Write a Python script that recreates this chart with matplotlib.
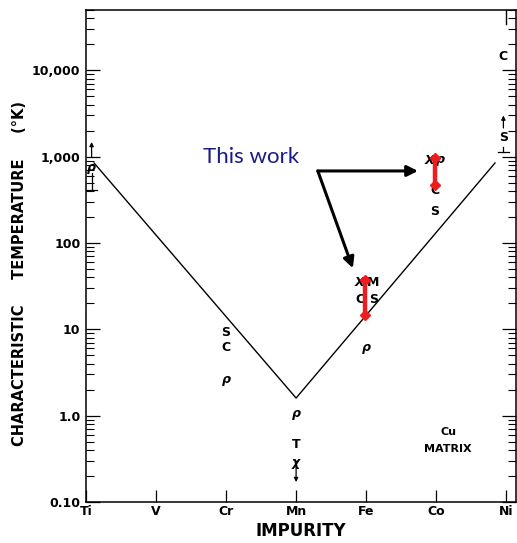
import matplotlib
matplotlib.use("Agg")
import matplotlib.pyplot as plt
from matplotlib.ticker import LogLocator, FixedLocator, NullFormatter

# ---- data ----
impurities = ["Ti", "V", "Cr", "Mn", "Fe", "Co", "Ni"]
ytick_vals = [0.1, 1, 10, 100, 1000, 10000]
ytick_labels = ["0.10", "1.0", "10", "100", "1,000", "10,000"]

# V-shaped guide line (impurity index, temperature K)
line_x = [0.115, 3.0, 5.84]
line_y = [845, 1.6, 845]

# letter symbols: (impurity index, temperature, label, italic)
symbols = [
    (0.08, 759, "ρ", True),
    (2.0, 9.3, "S", False),
    (2.0, 6.2, "C", False),
    (2.0, 2.6, "ρ", True),
    (3.0, 1.07, "ρ", True),
    (3.0, 0.46, "T", False),
    (3.0, 0.29, "χ", True),
    (3.91, 35, "X", True),
    (4.10, 35, "M", False),
    (3.91, 21.9, "C", False),
    (4.10, 21.9, "S", False),
    (4.01, 6.1, "ρ", True),
    (4.91, 910, "X", True),
    (5.06, 930, "ρ", True),
    (4.98, 411, "C", False),
    (4.98, 229, "S", False),
    (5.96, 14300, "C", False),
    (5.96, 1690, "S", False),
    (5.17, 0.65, "Cu", False),
    (5.17, 0.41, "MATRIX", False),
]

# "This work" ranges (red bars)
work_x = [3.98, 4.98]
work_low = [14.7, 470]
work_high = [37, 967]

# bound markers: (x, value of arrow base, value of arrow tip)
up_arrows = [(0.08, 1000, 1480), (5.96, 2150, 3000)]
down_arrows = [(3.0, 0.25, 0.17)]
# lower bound "⊥" markers: (x, top, bottom)
lower_bars = [(0.08, 645, 411), (5.96, 1300, 1130)]

fig = plt.figure(figsize=(5.17, 5.43), dpi=100)
ax = fig.add_axes([86/517, 1-502/543, (516-86)/517, 492/543])

ax.set_yscale("log")
ax.set_ylim(0.1, 50000)
ax.set_xlim(0, 6.14)

ax.plot(line_x, line_y, color="black", lw=1.0)

for x, y, s, it in symbols:
    fs = 8 if s in ("Cu", "MATRIX") else 9
    ax.text(x, y, s, ha="center", va="center", fontsize=fs, fontweight="bold",
            style="italic" if it else "normal", color="black")

for x, lo, hi in zip(work_x, work_low, work_high):
    ax.plot([x, x], [lo, hi], color="#EE1C1C", lw=3.2, solid_capstyle="butt",
            marker="D", markersize=5, zorder=5)

for x, b, t in up_arrows:
    ax.annotate("", xy=(x, t), xytext=(x, b),
                arrowprops=dict(arrowstyle="-|>", color="black", lw=0.9,
                                mutation_scale=6, shrinkA=0, shrinkB=0))
for x, b, t in down_arrows:
    ax.annotate("", xy=(x, t), xytext=(x, b),
                arrowprops=dict(arrowstyle="-|>", color="black", lw=0.9,
                                mutation_scale=6, shrinkA=0, shrinkB=0))
for x, top, bot in lower_bars:
    ax.plot([x, x], [top, bot], color="black", lw=0.9)
    ax.plot([x - 0.08, x + 0.08], [bot, bot], color="black", lw=0.9)

# top tick at Ni
ax.plot([6, 6], [50000, 34000], color="black", lw=1.0)

# "This work" annotation
ax.text(2.35, 990, "This work", ha="center", va="center", fontsize=16,
        family="Lato", color="#1B1B87")
ax.annotate("", xy=(4.74, 683), xytext=(3.31, 683),
            arrowprops=dict(arrowstyle="-|>", color="black", lw=2.2,
                            mutation_scale=16, shrinkA=0, shrinkB=0))
ax.annotate("", xy=(3.81, 51), xytext=(3.31, 683),
            arrowprops=dict(arrowstyle="-|>", color="black", lw=2.2,
                            mutation_scale=16, shrinkA=0, shrinkB=0))

# axes styling
ax.xaxis.set_major_locator(FixedLocator(range(len(impurities))))
ax.set_xticklabels(impurities, fontsize=9, fontweight="bold")
ax.yaxis.set_major_locator(FixedLocator(ytick_vals))
ax.set_yticklabels(ytick_labels, fontsize=9, fontweight="bold")
ax.yaxis.set_minor_locator(LogLocator(base=10, subs=range(2, 10), numticks=20))
ax.yaxis.set_minor_formatter(NullFormatter())

ax.tick_params(axis="x", direction="in", length=8.5, width=0.9, pad=2, top=False)
ax.tick_params(axis="y", which="major", direction="in", length=10, width=0.9,
               pad=4, right=True)
ax.tick_params(axis="y", which="minor", direction="in", length=5.5, width=0.8,
               right=True)
for sp in ax.spines.values():
    sp.set_linewidth(1.1)

ax.set_xlabel("IMPURITY", fontsize=12, fontweight="bold", labelpad=3)
fig.text(20/517, 1-273/543, "CHARACTERISTIC     TEMPERATURE     (°K)",
         rotation=90, ha="center", va="center", fontsize=10.5, fontweight="bold")

fig.savefig("out.png", dpi=100)
